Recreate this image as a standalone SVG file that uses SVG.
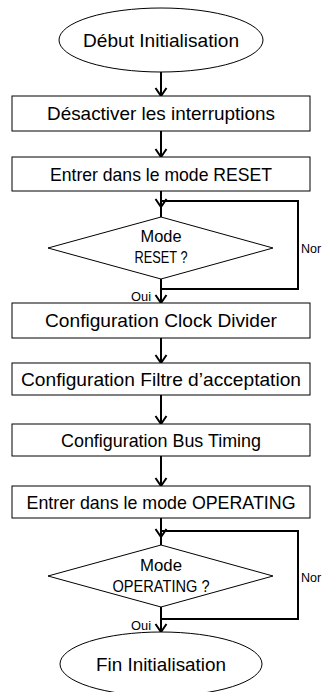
<svg xmlns="http://www.w3.org/2000/svg" width="323" height="692" viewBox="0 0 323 692">
  <defs>
    <style>
      .shape { fill: #ffffff; stroke: #000000; stroke-width: 1; }
      .wire { fill: none; stroke: #000000; stroke-width: 2; }
      .head { fill: none; stroke: #000000; stroke-width: 2; stroke-linejoin: miter; }
      text { font-family: "Liberation Sans", Arial, sans-serif; fill: #000000; }
      .lbl { font-size: 18.5px; text-anchor: middle; }
      .dec { font-size: 16.5px; text-anchor: middle; }
      .tag { font-size: 12.5px; }
    </style>
  </defs>

  <!-- connectors -->
  <g id="connectors">
    <path class="wire" d="M161 72 V96"/>
    <path class="head" d="M155.5 88 L161 96 L166.5 88"/>
    <path class="wire" d="M161 131 V157"/>
    <path class="head" d="M155.5 149 L161 157 L166.5 149"/>
    <path class="wire" d="M161 191 V217"/>
    <path class="head" d="M155.5 199 L161 207 L166.5 199"/>
    <!-- RESET loop (Non) -->
    <path class="wire" d="M161 279 V289 H298 V201 H161"/>
    <path class="wire" d="M161 289 V303"/>
    <path class="head" d="M155.5 295 L161 303 L166.5 295"/>
    <path class="wire" d="M161 338 V363"/>
    <path class="head" d="M155.5 355 L161 363 L166.5 355"/>
    <path class="wire" d="M161 395 V424"/>
    <path class="head" d="M155.5 416 L161 424 L166.5 416"/>
    <path class="wire" d="M161 456 V486"/>
    <path class="head" d="M155.5 478 L161 486 L166.5 478"/>
    <path class="wire" d="M161 518 V545"/>
    <path class="head" d="M155.5 529 L161 537 L166.5 529"/>
    <!-- OPERATING loop (Non) -->
    <path class="wire" d="M161 607 V619 H298 V531 H161"/>
    <path class="wire" d="M161 619 V632"/>
    <path class="head" d="M155.5 624 L161 632 L166.5 624"/>
  </g>

  <g id="start">
    <ellipse class="shape" cx="161" cy="40" rx="102" ry="32"/>
    <text class="lbl" x="161" y="46.6" textLength="156" lengthAdjust="spacingAndGlyphs">Début Initialisation</text>
  </g>

  <g id="disable-irq">
    <rect class="shape" x="12" y="96" width="298" height="35"/>
    <text class="lbl" x="161" y="120" textLength="228" lengthAdjust="spacingAndGlyphs">Désactiver les interruptions</text>
  </g>

  <g id="enter-reset">
    <rect class="shape" x="12" y="157" width="298" height="34"/>
    <text class="lbl" x="161" y="180.6" textLength="222" lengthAdjust="spacingAndGlyphs">Entrer dans le mode RESET</text>
  </g>

  <g id="check-reset">
    <polygon class="shape" points="161,217 273,248 161,279 48,248"/>
    <text class="dec" x="161" y="241.5" textLength="41" lengthAdjust="spacingAndGlyphs">Mode</text>
    <text class="dec" x="161" y="263" textLength="53" lengthAdjust="spacingAndGlyphs">RESET ?</text>
    <text class="tag" x="301" y="253">Nor</text>
    <text class="tag" x="131" y="301" textLength="20" lengthAdjust="spacingAndGlyphs">Oui</text>
  </g>

  <g id="clock-divider">
    <rect class="shape" x="12" y="303" width="298" height="35"/>
    <text class="lbl" x="161" y="327" textLength="232" lengthAdjust="spacingAndGlyphs">Configuration Clock Divider</text>
  </g>

  <g id="acceptance-filter">
    <rect class="shape" x="12" y="363" width="298" height="32"/>
    <text class="lbl" x="161" y="385.5" textLength="280" lengthAdjust="spacingAndGlyphs">Configuration Filtre d’acceptation</text>
  </g>

  <g id="bus-timing">
    <rect class="shape" x="12" y="424" width="298" height="32"/>
    <text class="lbl" x="161" y="446.5" textLength="200" lengthAdjust="spacingAndGlyphs">Configuration Bus Timing</text>
  </g>

  <g id="enter-operating">
    <rect class="shape" x="12" y="486" width="298" height="32"/>
    <text class="lbl" x="161" y="508.5" textLength="269" lengthAdjust="spacingAndGlyphs">Entrer dans le mode OPERATING</text>
  </g>

  <g id="check-operating">
    <polygon class="shape" points="161,545 273,576 161,607 48,576"/>
    <text class="dec" x="161" y="570.5" textLength="42" lengthAdjust="spacingAndGlyphs">Mode</text>
    <text class="dec" x="161" y="592" textLength="97" lengthAdjust="spacingAndGlyphs">OPERATING ?</text>
    <text class="tag" x="301" y="582">Nor</text>
    <text class="tag" x="131" y="630" textLength="20" lengthAdjust="spacingAndGlyphs">Oui</text>
  </g>

  <g id="end">
    <ellipse class="shape" cx="161" cy="664" rx="101" ry="32"/>
    <text class="lbl" x="161" y="671" textLength="130" lengthAdjust="spacingAndGlyphs">Fin Initialisation</text>
  </g>
</svg>
